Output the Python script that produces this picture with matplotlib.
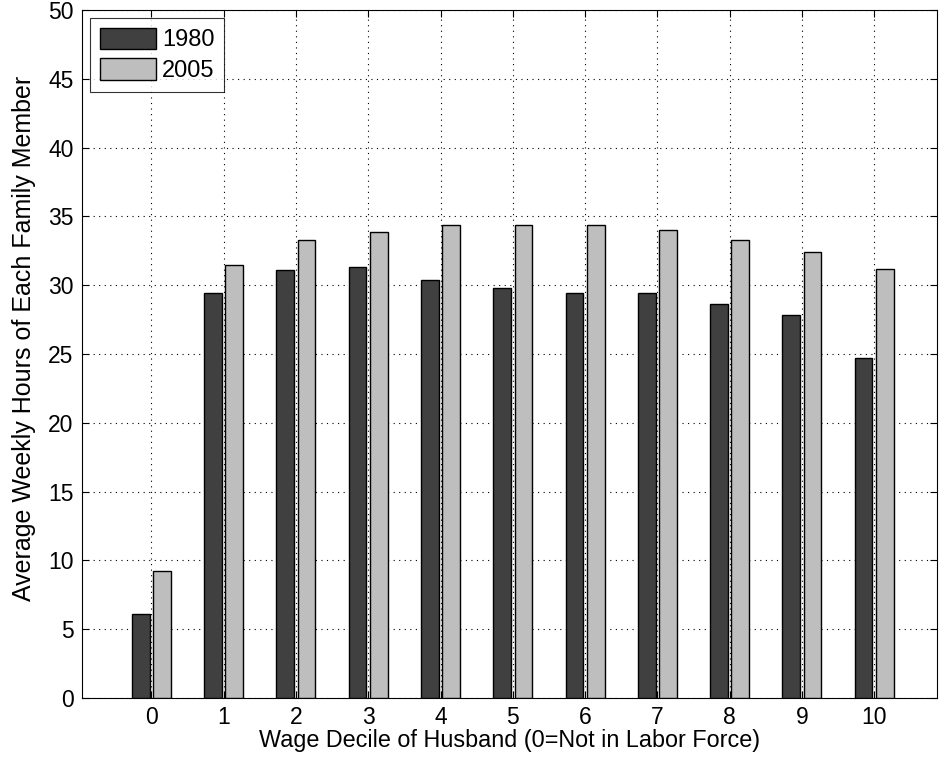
import matplotlib
import matplotlib.pyplot as plt
import numpy as np

matplotlib.use('Agg')

deciles = list(range(11))
hours_1980 = [6.1, 29.4, 31.1, 31.35, 30.4, 29.8, 29.4, 29.4, 28.6, 27.8, 24.7]
hours_2005 = [9.2, 31.5, 33.3, 33.85, 34.35, 34.35, 34.4, 34.0, 33.3, 32.4, 31.15]
series_labels = ['1980', '2005']

plt.rcParams['font.family'] = ['Liberation Sans', 'DejaVu Sans']

fig = plt.figure(figsize=(9.44, 7.61), dpi=100)
ax = fig.add_axes([0.0869, 0.0828, 0.9057, 0.904])

x = np.array(deciles)
w = 0.245
ax.bar(x - 0.147, hours_1980, w, color='#404040', edgecolor='black', linewidth=1.0,
       label=series_labels[0], zorder=3)
ax.bar(x + 0.147, hours_2005, w, color='#bebebe', edgecolor='black', linewidth=1.0,
       label=series_labels[1], zorder=3)

ax.set_xlim(-0.96, 10.87)
ax.set_ylim(0, 50)
ax.set_xticks(deciles)
ax.set_yticks(range(0, 51, 5))
ax.grid(True, linestyle=(0, (1, 4)), color='black', linewidth=0.8, zorder=0)
ax.tick_params(direction='in', labelsize=16.5, length=5, pad=6, top=True, right=True)
for s in ax.spines.values():
    s.set_linewidth(0.8)

ax.set_xlabel('Wage Decile of Husband (0=Not in Labor Force)', fontsize=16.8, labelpad=0)
ax.set_ylabel('Average Weekly Hours of Each Family Member', fontsize=18)
ax.yaxis.set_label_coords(-0.054, 0.523)

leg = ax.legend(loc='upper left', fontsize=17, handlelength=2.4, handleheight=1.0,
                frameon=True, fancybox=False, borderaxespad=0.35, labelspacing=0.3,
                handletextpad=0.25, borderpad=0.4)
leg.get_frame().set_edgecolor('black')
leg.get_frame().set_linewidth(0.8)

fig.savefig('out.png', dpi=100)
plt.close(fig)
